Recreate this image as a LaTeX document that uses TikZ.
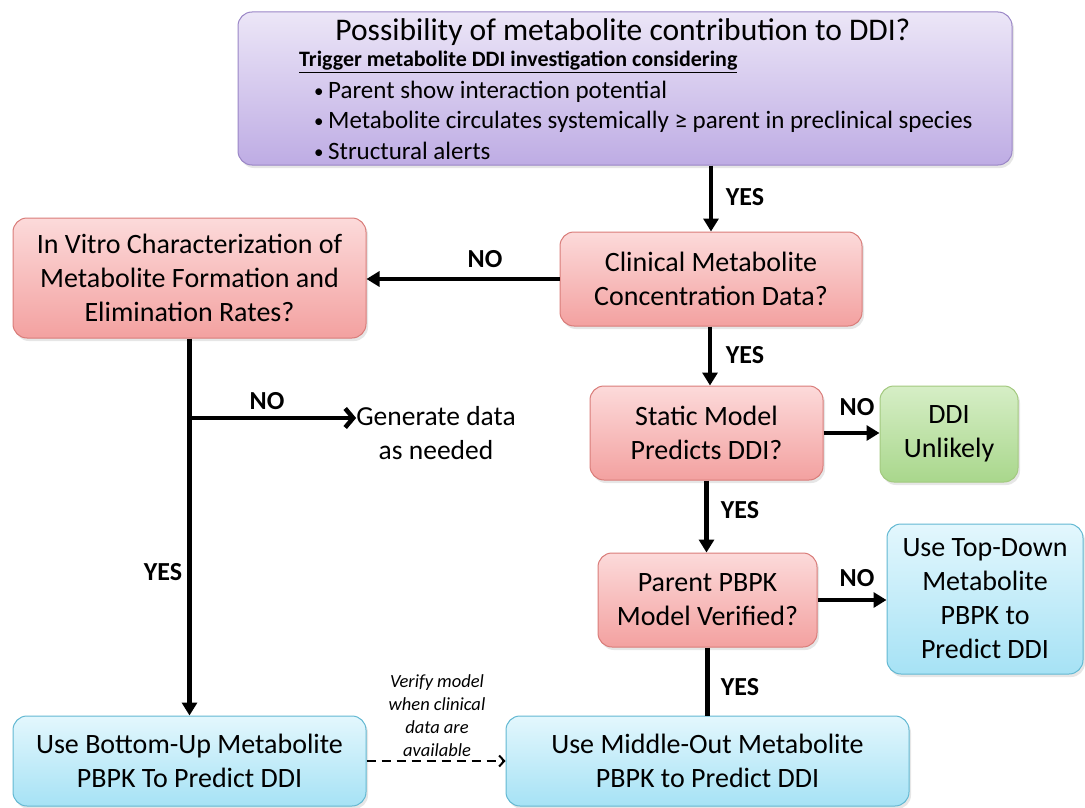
\documentclass[tikz,border=0pt]{standalone}
\usepackage{fontspec}
\setmainfont{Carlito}
\usetikzlibrary{arrows.meta,shadows}
\newcommand\myfs[2]{\fontsize{#1}{#2}\selectfont}
\newcommand\mybul{{\myfs{19}{20}\raisebox{1pt}{\textbullet}}\hspace{0.18em}}
\definecolor{redline}{HTML}{D97C79}
\definecolor{redtop}{HTML}{FCDADA}
\definecolor{redbot}{HTML}{F3A1A0}
\definecolor{blueline}{HTML}{62B8D2}
\definecolor{bluetop}{HTML}{E3F7FD}
\definecolor{bluebot}{HTML}{A6E2F5}
\definecolor{greenline}{HTML}{A3C97F}
\definecolor{greentop}{HTML}{D6EEC6}
\definecolor{greenbot}{HTML}{A9D78C}
\definecolor{purpline}{HTML}{9A86C6}
\definecolor{purptop}{HTML}{ECE6F7}
\definecolor{purpbot}{HTML}{BEACE4}
\begin{document}
\begin{tikzpicture}[x=1pt,y=-1pt,
  box/.style={rounded corners=14pt, draw, line width=1pt, align=center, inner sep=0pt,
    drop shadow={opacity=0.2,shadow xshift=2pt,shadow yshift=-3pt}},
  redbox/.style={box, draw=redline, top color=redtop, bottom color=redbot, font=\myfs{28}{34}},
  bluebox/.style={box, draw=blueline, top color=bluetop, bottom color=bluebot, font=\myfs{28}{34}},
  greenbox/.style={box, draw=greenline, top color=greentop, bottom color=greenbot, font=\myfs{28}{34}},
  purpbox/.style={box, draw=purpline, top color=purptop, bottom color=purpbot},
  arr/.style={line width=4.5pt, -{Triangle[length=13pt,width=15pt]}},
  openarr/.style={line width=4.5pt, -{Straight Barb[length=8pt,width=19pt]}},
  lab/.style={font=\bfseries\myfs{26}{30}, inner sep=0pt},
  bul/.style={anchor=west, font=\myfs{25}{28}, inner sep=0pt}]
\useasboundingbox (0,0) rectangle (1085,808);
% top box
\node[purpbox, minimum width=774pt, minimum height=153pt] (top) at (625,88.5) {};
\node[font=\myfs{31.5}{36}, inner sep=0pt] (title) at (623,32) {Possibility of metabolite contribution to DDI?};
\node[anchor=west, font=\bfseries\myfs{22}{26}, inner sep=0pt] (trig) at (299,62) {\underline{Trigger metabolite DDI investigation considering}};
\node[bul] (b1) at (314,92) {\mybul Parent show interaction potential};
\node[bul] (b2) at (314,122) {\mybul Metabolite circulates systemically ≥ parent in preclinical species};
\node[bul] (b3) at (314,151) {\mybul Structural alerts};
% boxes
\node[redbox, minimum width=302pt, minimum height=94pt] (clin) at (711,279) {Clinical Metabolite\\Concentration Data?};
\node[redbox, minimum width=353pt, minimum height=120pt] (vitro) at (189.5,278) {In Vitro Characterization of\\Metabolite Formation and\\Elimination Rates?};
\node[redbox, minimum width=233pt, minimum height=94pt] (static) at (706.5,433) {Static Model\\Predicts DDI?};
\node[greenbox, minimum width=138pt, minimum height=96pt] (ddi) at (949,434) {DDI\\Unlikely};
\node[redbox, minimum width=219pt, minimum height=94pt] (parent) at (707.5,600) {Parent PBPK\\Model Verified?};
\node[bluebox, minimum width=196pt, minimum height=150pt] (topdown) at (985,599) {Use Top-Down\\Metabolite\\PBPK to\\Predict DDI};
\node[bluebox, minimum width=353pt, minimum height=90pt] (bottom) at (189.5,761) {Use Bottom-Up Metabolite\\PBPK To Predict DDI};
\node[bluebox, minimum width=403pt, minimum height=90pt] (middle) at (707.5,761) {Use Middle-Out Metabolite\\PBPK to Predict DDI};
\node[font=\myfs{27.5}{34}, align=center, inner sep=0pt] (gen) at (436,433) {Generate data\\as needed};
\coordinate (br) at (vitro.south |- 0,418);
% connectors
\draw[arr] (top.south -| clin.north) -- (clin.north);
\draw[arr] (clin.west) -- (vitro.east |- clin.west);
\draw[arr] (clin.south -| 710,0) -- (710,0 |- static.north);
\draw[arr] (static.east) -- (ddi.west |- static.east);
\draw[arr] (static.south) -- (static.south |- parent.north);
\draw[arr] (parent.east) -- (topdown.west |- parent.east);
\draw[line width=4.5pt] (parent.south) -- (parent.south |- middle.north);
\draw[arr] (vitro.south) -- (vitro.south |- bottom.north);
\draw[openarr] (br) -- (gen.west |- br);
\draw[line width=2pt, dash pattern=on 9pt off 6pt, -{Straight Barb[length=5pt,width=11pt]}] (bottom.east) -- (middle.west);
% labels
\node[lab] (l1) at (745,197) {YES};
\node[lab] (l2) at (485,259) {NO};
\node[lab] (l3) at (745,355) {YES};
\node[lab] (l4) at (857,407) {NO};
\node[lab] (l5) at (740,510) {YES};
\node[lab] (l6) at (857,578) {NO};
\node[lab] (l7) at (740,687) {YES};
\node[lab] (l8) at (163,572) {YES};
\node[lab] (l9) at (267,401) {NO};
\node[font=\itshape\myfs{18.5}{23}, align=center, inner sep=0pt] (verify) at (437,716) {Verify model\\when clinical\\data are\\available};
\end{tikzpicture}
\end{document}
